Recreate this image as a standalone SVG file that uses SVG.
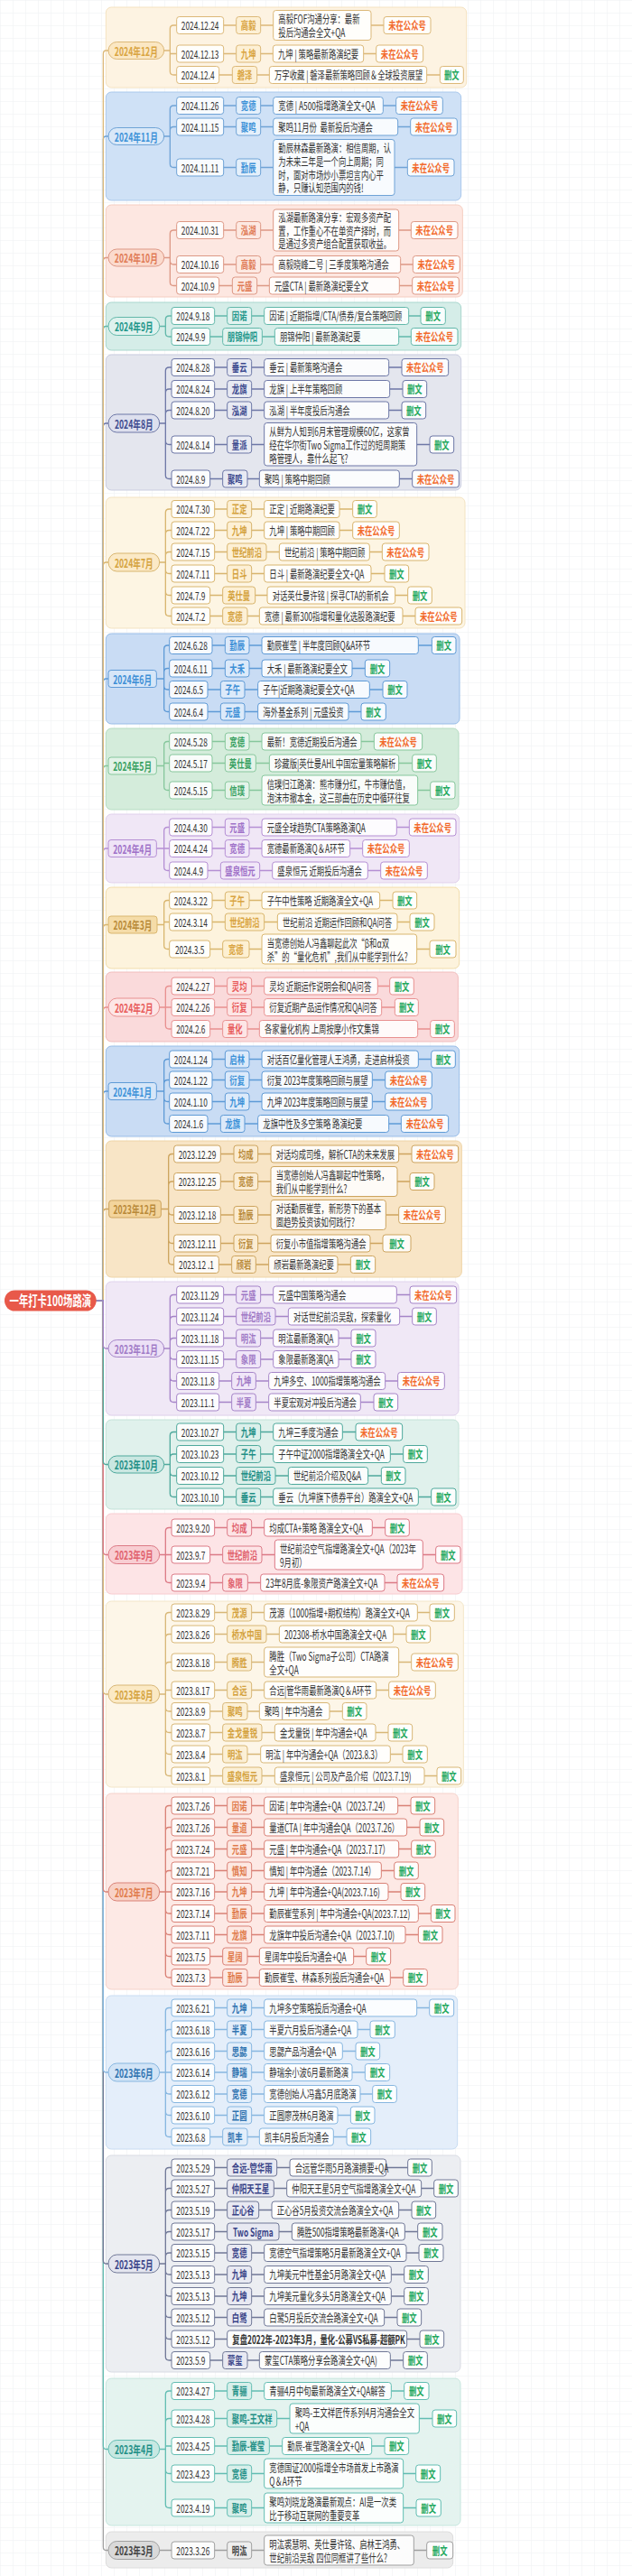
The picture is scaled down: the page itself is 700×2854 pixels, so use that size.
<svg xmlns="http://www.w3.org/2000/svg" width="700" height="2854" viewBox="0 0 700 2854">
<defs>
<pattern id="grid" width="14" height="14" patternUnits="userSpaceOnUse"><path d="M14 0H0V14" fill="none" stroke="#edeff2" stroke-width="1"/></pattern>
<style>
text,tspan{font-family:"Noto Sans CJK SC","Noto Sans",sans-serif;font-size:12.5px;dominant-baseline:central}
rect,path{vector-effect:non-scaling-stroke}
.b{fill:#fff;fill-opacity:.85;stroke-width:1;rx:4.5px;ry:3px}
.cb,.mo{fill-opacity:1}
.pl{rx:14px;ry:10px}
.cn path{fill:none;stroke-width:1.3}
.dt{fill:#333;text-anchor:middle}
.tt{fill:#333}
.tb{font-weight:bold}
.co{font-weight:bold;text-anchor:middle}
.mt{font-size:13px}
.w{fill:#f26a2b;font-weight:bold;text-anchor:middle}
.g{fill:#1fa85e;font-weight:bold;text-anchor:middle}
.a .b{stroke:#dcb878}.a .cb{fill:#fdf0d5}.a .mo{fill:#fbe7c3}.a .co{fill:#d9a441}.Ka{stroke:#dcb878}
.b2 .b{stroke:#6fa3d6}.b2 .cb{fill:#e5f0fb}.b2 .mo{fill:#d9e8f8}.b2 .co{fill:#3d92d8}.Kb{stroke:#6fa3d6}
.c .b{stroke:#dd9885}.c .cb{fill:#fde9e2}.c .mo{fill:#fbdacd}.c .co{fill:#e07b56}.Kc{stroke:#dd9885}
.d .b{stroke:#62b8aa}.d .cb{fill:#e1f3f0}.d .mo{fill:#dff2ee}.d .co{fill:#21968a}.Kd{stroke:#62b8aa}
.e .b{stroke:#6d77a6}.e .cb{fill:#e8eaf3}.e .mo{fill:#dde0ee}.e .co{fill:#3d4a8f}.Ke{stroke:#6d77a6}
.f .b{stroke:#d8b56e}.f .cb{fill:#fdf0d5}.f .mo{fill:#fbe9c6}.f .co{fill:#d4a23e}.Kf{stroke:#d8b56e}
.g2 .b{stroke:#5e9ad6}.g2 .cb{fill:#dceafa}.g2 .mo{fill:#d6e6f8}.g2 .co{fill:#3d8fd6}.Kg{stroke:#5e9ad6}
.h .b{stroke:#86c79c}.h .cb{fill:#e4f4e9}.h .mo{fill:#e3f3e8}.h .co{fill:#37a060}.Kh{stroke:#86c79c}
.i .b{stroke:#b58fd4}.i .cb{fill:#f1e7f8}.i .mo{fill:#efe4f7}.i .co{fill:#a072c8}.Ki{stroke:#b58fd4}
.j .b{stroke:#d9b66e}.j .cb{fill:#fdf0d2}.j .mo{fill:#f5dca8}.j .co{fill:#d9a441}.j .mt{fill:#b88a38}.Kj{stroke:#d9b66e}
.k .b{stroke:#e89090}.k .cb{fill:#fde6e6}.k .mo{fill:#fde6e6}.k .co{fill:#e85a5a}.Kk{stroke:#e89090}
.l .b{stroke:#5e9ad6}.l .cb{fill:#dceafa}.l .mo{fill:#d6e6f8}.l .co{fill:#3d92d8}.Kl{stroke:#5e9ad6}
.m .b{stroke:#cda45e}.m .cb{fill:#fbecd2}.m .mo{fill:#f3d49c}.m .co{fill:#b98a3a}.Km{stroke:#cda45e}
.n .b{stroke:#a584c8}.n .cb{fill:#f0e6f8}.n .mo{fill:#ece0f6}.n .co{fill:#a07ac6}.Kn{stroke:#a584c8}
.o .b{stroke:#4ea99c}.o .cb{fill:#dcf0eb}.o .mo{fill:#c9e7e1}.o .co{fill:#1f8f86}.Ko{stroke:#4ea99c}
.p .b{stroke:#dc7a86}.p .cb{fill:#fde4e6}.p .mo{fill:#f8cdd2}.p .co{fill:#e0606c}.Kp{stroke:#dc7a86}
.q .b{stroke:#d8b777}.q .cb{fill:#fcf0d6}.q .mo{fill:#fbe9c4}.q .co{fill:#d4a23e}.Kq{stroke:#d8b777}
.r .b{stroke:#d98176}.r .cb{fill:#fde8e2}.r .mo{fill:#f8d1c6}.r .co{fill:#e07b4c}.Kr{stroke:#d98176}
.s .b{stroke:#86b6e0}.s .cb{fill:#e3eefa}.s .mo{fill:#d2e4f6}.s .co{fill:#2f73b0}.Ks{stroke:#86b6e0}
.t .b{stroke:#707897}.t .cb{fill:#e8e9f2}.t .mo{fill:#e4e6f0}.t .co{fill:#3a4488}.Kt{stroke:#707897}
.u .b{stroke:#62bdb2}.u .cb{fill:#d8efea}.u .mo{fill:#c7e8e2}.u .co{fill:#1f8f86}.Ku{stroke:#62bdb2}
.v .b{stroke:#a0a0a0}.v .cb{fill:#eeeeee}.v .mo{fill:#d9d9d9}.v .co{fill:#444}.Kv{stroke:#a0a0a0}
</style>
</defs>
<rect width="700" height="2854" fill="#fff"/>
<rect width="700" height="2854" fill="url(#grid)"/>
<g transform="scale(0.666667,1)">
<g id="panels" stroke-width="1">
<rect x="176" y="8" width="599" height="89" rx="9" ry="6" fill="#fdf3e2" stroke="#f5e2c0"/>
<rect x="176" y="102" width="590" height="120" rx="9" ry="6" fill="#cfe1f6" stroke="#a9c8ec"/>
<rect x="176" y="227" width="592.5" height="102" rx="9" ry="6" fill="#fde7e1" stroke="#f5cdc0"/>
<rect x="176" y="335" width="590" height="53" rx="9" ry="6" fill="#d5ede8" stroke="#a8d6cd"/>
<rect x="176" y="393" width="590" height="150" rx="9" ry="6" fill="#e4e6ee" stroke="#cacde0"/>
<rect x="176" y="551" width="596.5" height="145" rx="9" ry="6" fill="#fdf5e3" stroke="#f3e3c1"/>
<rect x="176" y="702" width="587.5" height="100" rx="9" ry="6" fill="#c9dcf4" stroke="#98bde8"/>
<rect x="176" y="807" width="586" height="90" rx="9" ry="6" fill="#d4ecdb" stroke="#b5dcc2"/>
<rect x="176" y="902" width="587" height="76" rx="9" ry="6" fill="#f0e7f6" stroke="#e0d0ec"/>
<rect x="176" y="983" width="587" height="90" rx="9" ry="6" fill="#fdf3dd" stroke="#f1dcaa"/>
<rect x="176" y="1077" width="585" height="77" rx="9" ry="6" fill="#fadadb" stroke="#f1bcbc"/>
<rect x="176" y="1159" width="587" height="100" rx="9" ry="6" fill="#c9dcf4" stroke="#98bde8"/>
<rect x="176" y="1264" width="591" height="151" rx="9" ry="6" fill="#f8e5c6" stroke="#eed4a6"/>
<rect x="176" y="1420" width="586" height="148" rx="9" ry="6" fill="#f0e8f6" stroke="#e0d2ec"/>
<rect x="176" y="1573" width="586" height="99" rx="9" ry="6" fill="#e0f1ec" stroke="#c3e2d8"/>
<rect x="176" y="1677" width="592" height="89" rx="9" ry="6" fill="#fde4e6" stroke="#f8ccd0"/>
<rect x="176" y="1774" width="594" height="206" rx="9" ry="6" fill="#fdf6e8" stroke="#f3e6c8"/>
<rect x="176" y="1987" width="585" height="217" rx="9" ry="6" fill="#fde9e5" stroke="#f6d2ca"/>
<rect x="176" y="2211" width="584" height="170" rx="9" ry="6" fill="#e4eefa" stroke="#c8dcf2"/>
<rect x="176" y="2388" width="589" height="240" rx="9" ry="6" fill="#eceef2" stroke="#d8dbe3"/>
<rect x="176" y="2635" width="589" height="163" rx="9" ry="6" fill="#e4f3ef" stroke="#c6e6de"/>
<rect x="176" y="2805" width="576.5" height="40" rx="9" ry="6" fill="#ececec" stroke="#dcdcdc"/>
</g>
<g id="connectors" class="cn">
<path class="Km" d="M160 1441H171.5V1343.5Q171.5 1339.5 176 1339.5H181"/>
<path class="Kl" d="M160 1441H171.5V1213Q171.5 1209 176 1209H180"/>
<path class="Kk" d="M160 1441H171.5V1120Q171.5 1116 176 1116H180"/>
<path class="Kj" d="M160 1441H171.5V1028.5Q171.5 1024.5 176 1024.5H180"/>
<path class="Ki" d="M160 1441H171.5V944Q171.5 940 176 940H180"/>
<path class="Kh" d="M160 1441H171.5V852.5Q171.5 848.5 176 848.5H180"/>
<path class="Kg" d="M160 1441H171.5V756Q171.5 752 176 752H180"/>
<path class="Kf" d="M160 1441H171.5V627Q171.5 623 176 623H180"/>
<path class="Ke" d="M160 1441H171.5V473Q171.5 469 176 469H180"/>
<path class="Kd" d="M160 1441H171.5V365.5Q171.5 361.5 176 361.5H180"/>
<path class="Kc" d="M160 1441H171.5V289.5Q171.5 285.5 176 285.5H180"/>
<path class="Kb" d="M160 1441H171.5V155Q171.5 151 176 151H180"/>
<path class="Ka" d="M160 1441H171.5V60Q171.5 56 176 56H180"/>
<path class="Kv" d="M160 1441H171.5V2821.5Q171.5 2825.5 176 2825.5H180"/>
<path class="Ku" d="M160 1441H171.5V2709.5Q171.5 2713.5 176 2713.5H180"/>
<path class="Kt" d="M160 1441H171.5V2504Q171.5 2508 176 2508H180"/>
<path class="Ks" d="M160 1441H171.5V2292Q171.5 2296 176 2296H180"/>
<path class="Kr" d="M160 1441H171.5V2092Q171.5 2096 176 2096H180"/>
<path class="Kq" d="M160 1441H171.5V1873Q171.5 1877 176 1877H180"/>
<path class="Kp" d="M160 1441H171.5V1718.5Q171.5 1722.5 176 1722.5H180"/>
<path class="Ko" d="M160 1441H171.5V1618.5Q171.5 1622.5 176 1622.5H180"/>
<path class="Kn" d="M160 1441H171.5V1490Q171.5 1494 176 1494H180"/>
<path class="Ka" d="M272.5 56H282.5M282.5 56V32Q282.5 28 288.5 28H293.5M371.5 28H392.5M433 28H454M616.5 28H637.5M282.5 56V59.5H293.5M371.5 59.5H392.5M433 59.5H453.5M604 59.5H625M282.5 56V79Q282.5 83 288.5 83H293.5M364 83H386M427 83H447.5M709 83H731"/>
<path class="Kb" d="M272.5 151H282.5M282.5 151V121Q282.5 117 288.5 117H293.5M371.5 117H392.5M433 117H454M636.5 117H658M282.5 151V144.5Q282.5 140.5 288.5 140.5H293.5M371.5 140.5H392.5M433 140.5H454M661 140.5H682M282.5 151V181.5Q282.5 185.5 288.5 185.5H293.5M371.5 185.5H392.5M433 185.5H454M655.5 185.5H677"/>
<path class="Kc" d="M272.5 285.5H282.5M282.5 285.5V259Q282.5 255 288.5 255H293.5M371.5 255H392.5M433 255H454M662.5 255H683M282.5 285.5V289Q282.5 293 288.5 293H293.5M371.5 293H392.5M433 293H454M665.5 293H686M282.5 285.5V312.5Q282.5 316.5 288.5 316.5H293.5M364 316.5H386M427 316.5H447.5M663.5 316.5H685"/>
<path class="Kd" d="M265 361.5H275M275 361.5V354Q275 350 281 350H285M356.5 350H377.5M418 350H439M679 350H699M275 361.5V369Q275 373 281 373H285M349 373H370M435.5 373H456.5M662.5 373H683"/>
<path class="Ke" d="M265 469H275M275 469V411Q275 407 281 407H285M356.5 407H377.5M418 407H439M646 407H667.5M275 469V435Q275 431 281 431H285M356.5 431H377.5M418 431H439M647.5 431H669M275 469V458.5Q275 454.5 281 454.5H285M356.5 454.5H377.5M418 454.5H439M646 454.5H667.5M275 469V488.5Q275 492.5 281 492.5H285M356.5 492.5H377.5M418 492.5H439M692.5 492.5H714M275 469V526.5Q275 530.5 281 530.5H285M349 530.5H370M411 530.5H431M663.5 530.5H685"/>
<path class="Kf" d="M265 623H275M275 623V568Q275 564 281 564H285M356.5 564H377.5M418 564H439M564 564H586M275 623V591.5Q275 587.5 281 587.5H285M356.5 587.5H377.5M418 587.5H439M564 587.5H586M275 623V615.5Q275 611.5 281 611.5H285M356.5 611.5H377.5M442.5 611.5H464M614 611.5H635M275 623V631.5Q275 635.5 281 635.5H285M356.5 635.5H377.5M418 635.5H439M616.5 635.5H639M275 623V655.5Q275 659.5 281 659.5H285M349 659.5H370M424 659.5H444M656.5 659.5H677.5M275 623V678.5Q275 682.5 281 682.5H285M349 682.5H370M411 682.5H431M669 682.5H690"/>
<path class="Kg" d="M260 752H272.5M272.5 752V719Q272.5 715 278.5 715H281.5M352.5 715H374M414 715H435M695 715H717.5M272.5 752V744.5Q272.5 740.5 278.5 740.5H281.5M352.5 740.5H374M414 740.5H435M585 740.5H606.5M272.5 752V760Q272.5 764 278.5 764H281.5M345 764H366.5M406.5 764H428.5M614 764H636M272.5 752V784.5Q272.5 788.5 278.5 788.5H281.5M345 788.5H366.5M406.5 788.5H428.5M579 788.5H600"/>
<path class="Kh" d="M260 848.5H272.5M272.5 848.5V825.5Q272.5 821.5 278.5 821.5H281.5M352.5 821.5H374M414 821.5H435M600 821.5H621.5M272.5 848.5V845.5H281.5M352.5 845.5H374M425 845.5H447.5M662.5 845.5H685M272.5 848.5V871.5Q272.5 875.5 278.5 875.5H281.5M352.5 875.5H374M414 875.5H435M694 875.5H715"/>
<path class="Ki" d="M260 940H272.5M272.5 940V920.5Q272.5 916.5 278.5 916.5H281.5M352.5 916.5H374M414 916.5H435M659 916.5H680M272.5 940H281.5M352.5 940H374M414 940H435M581.5 940H602.5M272.5 940V960.5Q272.5 964.5 278.5 964.5H281.5M345 964.5H366.5M431.5 964.5H452.5M611 964.5H632.5"/>
<path class="Kj" d="M261 1024.5H272.5M272.5 1024.5V1001.5Q272.5 997.5 278.5 997.5H281.5M352.5 997.5H374M414 997.5H435M631 997.5H652.5M272.5 1024.5V1021.5H281.5M352.5 1021.5H374M439 1021.5H461M660 1021.5H681M272.5 1024.5V1047.5Q272.5 1051.5 278.5 1051.5H281.5M349 1051.5H370M414 1051.5H435M692.5 1051.5H714"/>
<path class="Kk" d="M265 1116H275M275 1116V1096.5Q275 1092.5 281 1092.5H285M356.5 1092.5H377.5M418 1092.5H439M627.5 1092.5H647.5M275 1116H285M356.5 1116H377.5M418 1116H439M634 1116H656M275 1116V1136Q275 1140 281 1140H285M349 1140H370M411 1140H431M694 1140H715"/>
<path class="Kl" d="M260 1209H272.5M272.5 1209V1177.5Q272.5 1173.5 278.5 1173.5H281.5M352.5 1173.5H374M414 1173.5H435M695 1173.5H716.5M272.5 1209V1200.5Q272.5 1196.5 278.5 1196.5H281.5M352.5 1196.5H374M414 1196.5H435M618.5 1196.5H640M272.5 1209V1216.5Q272.5 1220.5 278.5 1220.5H281.5M352.5 1220.5H374M414 1220.5H435M618.5 1220.5H640M272.5 1209V1241Q272.5 1245 278.5 1245H281.5M345 1245H366.5M406.5 1245H428.5M646 1245H666.5"/>
<path class="Km" d="M267.5 1339.5H280M280 1339.5V1282.5Q280 1278.5 286 1278.5H289M366.5 1278.5H388.5M428.5 1278.5H450M662.5 1278.5H684M280 1339.5V1313Q280 1309 286 1309H289M366.5 1309H388.5M428.5 1309H450M660 1309H681M280 1339.5V1342Q280 1346 286 1346H289M366.5 1346H388.5M428.5 1346H450M641 1346H662.5M280 1339.5V1373.5Q280 1377.5 286 1377.5H289M366.5 1377.5H388.5M428.5 1377.5H450M615 1377.5H636M280 1339.5V1397Q280 1401 286 1401H289M363.5 1401H385M425 1401H446.5M561 1401H582.5"/>
<path class="Kn" d="M272.5 1494H282.5M282.5 1494V1438.5Q282.5 1434.5 288.5 1434.5H293.5M371.5 1434.5H392.5M433 1434.5H454M659 1434.5H681M282.5 1494V1462.5Q282.5 1458.5 288.5 1458.5H293.5M371.5 1458.5H392.5M457.5 1458.5H479M664 1458.5H685M282.5 1494V1486.5Q282.5 1482.5 288.5 1482.5H293.5M371.5 1482.5H392.5M433 1482.5H454M562.5 1482.5H583.5M282.5 1494V1502Q282.5 1506 288.5 1506H293.5M371.5 1506H392.5M433 1506H454M562.5 1506H583.5M282.5 1494V1526Q282.5 1530 288.5 1530H293.5M364 1530H385M425 1530H446.5M640 1530H661M282.5 1494V1549.5Q282.5 1553.5 288.5 1553.5H293.5M364 1553.5H385M425 1553.5H446.5M599 1553.5H621"/>
<path class="Ko" d="M272.5 1622.5H282.5M282.5 1622.5V1590.5Q282.5 1586.5 288.5 1586.5H293.5M371.5 1586.5H392.5M433 1586.5H454M569 1586.5H591M282.5 1622.5V1615Q282.5 1611 288.5 1611H293.5M371.5 1611H392.5M433 1611H454M648.5 1611H670M282.5 1622.5V1631Q282.5 1635 288.5 1635H293.5M371.5 1635H392.5M457.5 1635H479M611.5 1635H633.5M282.5 1622.5V1654.5Q282.5 1658.5 288.5 1658.5H293.5M371.5 1658.5H392.5M433 1658.5H454M695 1658.5H716.5"/>
<path class="Kp" d="M265 1722.5H275M275 1722.5V1696.5Q275 1692.5 281 1692.5H285M356.5 1692.5H377.5M418 1692.5H439M618.5 1692.5H640M275 1722.5H285M349 1722.5H370M435 1722.5H456.5M702.5 1722.5H724M275 1722.5V1749.5Q275 1753.5 281 1753.5H285M349 1753.5H370M411.5 1753.5H433M639 1753.5H660"/>
<path class="Kq" d="M265 1877H275M275 1877V1790.5Q275 1786.5 281 1786.5H285M356.5 1786.5H377.5M418 1786.5H439M693.5 1786.5H714M275 1877V1814.5Q275 1810.5 281 1810.5H285M356.5 1810.5H377.5M442.5 1810.5H464M653.5 1810.5H675M275 1877V1845.5Q275 1841.5 281 1841.5H285M356.5 1841.5H377.5M418 1841.5H439M662.5 1841.5H683.5M275 1877V1872.5H285M356.5 1872.5H377.5M418 1872.5H439M625 1872.5H646M275 1877V1892Q275 1896 281 1896H285M349 1896H370M411 1896H431M547.5 1896H569M275 1877V1915.5Q275 1919.5 281 1919.5H285M349 1919.5H370M435 1919.5H456.5M624 1919.5H645M275 1877V1939.5Q275 1943.5 281 1943.5H285M349 1943.5H370M411 1943.5H433M648.5 1943.5H669M275 1877V1963.5Q275 1967.5 281 1967.5H285M349 1967.5H370M435 1967.5H456.5M705 1967.5H726"/>
<path class="Kr" d="M265 2096H275M275 2096V2004.5Q275 2000.5 281 2000.5H285M356.5 2000.5H377.5M418 2000.5H439M661 2000.5H682.5M275 2096V2028.5Q275 2024.5 281 2024.5H285M356.5 2024.5H377.5M418 2024.5H439M676 2024.5H697.5M275 2096V2052.5Q275 2048.5 281 2048.5H285M356.5 2048.5H377.5M418 2048.5H439M662.5 2048.5H683.5M275 2096V2076.5Q275 2072.5 281 2072.5H285M356.5 2072.5H377.5M418 2072.5H439M633.5 2072.5H655M275 2096H285M356.5 2096H377.5M418 2096H439M645 2096H666M275 2096V2116Q275 2120 281 2120H285M356.5 2120H377.5M418 2120H439M695 2120H716M275 2096V2139.5Q275 2143.5 281 2143.5H285M356.5 2143.5H377.5M418 2143.5H439M673.5 2143.5H695M275 2096V2163.5Q275 2167.5 281 2167.5H285M349 2167.5H370M411 2167.5H431M587.5 2167.5H608.5M275 2096V2187Q275 2191 281 2191H285M349 2191H370M411 2191H431M648.5 2191H670"/>
<path class="Ks" d="M265 2296H275M275 2296V2228.5Q275 2224.5 281 2224.5H285M356.5 2224.5H377.5M418 2224.5H439M692.5 2224.5H713.5M275 2296V2252.5Q275 2248.5 281 2248.5H285M356.5 2248.5H377.5M418 2248.5H439M594 2248.5H615M275 2296V2276.5Q275 2272.5 281 2272.5H285M356.5 2272.5H377.5M418 2272.5H439M569 2272.5H591M275 2296H285M356.5 2296H377.5M418 2296H439M585 2296H606.5M275 2296V2316Q275 2320 281 2320H285M356.5 2320H377.5M418 2320H439M598.5 2320H619M275 2296V2339.5Q275 2343.5 281 2343.5H285M356.5 2343.5H377.5M418 2343.5H439M561 2343.5H582.5M275 2296V2363.5Q275 2367.5 281 2367.5H285M349 2367.5H370M411 2367.5H431M554 2367.5H576"/>
<path class="Kt" d="M265 2508H275M275 2508V2405.5Q275 2401.5 281 2401.5H285M356.5 2401.5H377.5M460 2401.5H481.5M641.5 2401.5H677.5M275 2508V2428.5Q275 2424.5 281 2424.5H285M356.5 2424.5H377.5M455 2424.5H476.5M700 2424.5H721M275 2508V2452.5Q275 2448.5 281 2448.5H285M356.5 2448.5H377.5M430 2448.5H451.5M662.5 2448.5H684M275 2508V2476.5Q275 2472.5 281 2472.5H285M356.5 2472.5H377.5M463.5 2472.5H485M672.5 2472.5H694M275 2508V2500Q275 2496 281 2496H285M356.5 2496H377.5M418 2496H439M675 2496H696M275 2508V2516Q275 2520 281 2520H285M356.5 2520H377.5M418 2520H439M650 2520H671.5M275 2508V2540Q275 2544 281 2544H285M356.5 2544H377.5M418 2544H439M650 2544H671.5M275 2508V2563.5Q275 2567.5 281 2567.5H285M356.5 2567.5H377.5M418 2567.5H439M638.5 2567.5H660M275 2508V2587.5Q275 2591.5 281 2591.5H285M356.5 2591.5H377.5M676 2591.5H697.5M275 2508V2611Q275 2615 281 2615H285M349 2615H370M411 2615H431M648.5 2615H670"/>
<path class="Ku" d="M265 2713.5H275M275 2713.5V2653Q275 2649 281 2649H285M356.5 2649H377.5M418 2649H439M650 2649H671.5M275 2713.5V2683.5Q275 2679.5 281 2679.5H285M356.5 2679.5H377.5M460 2679.5H481.5M696.5 2679.5H718.5M275 2713.5V2710H285M356.5 2710H377.5M447.5 2710H469M617.5 2710H639M275 2713.5V2736.5Q275 2740.5 281 2740.5H285M356.5 2740.5H377.5M418 2740.5H439M670 2740.5H691M275 2713.5V2774.5Q275 2778.5 281 2778.5H285M356.5 2778.5H377.5M418 2778.5H439M670 2778.5H691.5"/>
<path class="Kv" d="M265 2825.5H285M356.5 2825.5H377.5M418 2825.5H439M687.5 2825.5H709"/>
</g>

<g id="root"><rect x="7.5" y="1429.5" width="152.5" height="23" rx="17" ry="11.5" fill="#e8594a"/><text x="83.75" y="1441" fill="#fff" font-weight="bold" text-anchor="middle" style="font-size:15.5px">一年打卡100场路演</text></g>

<g id="sec-2024-12" class="a">
<g id="a0"><rect class="b mo pl" x="180" y="46.5" width="92.5" height="19"/><text class="co mt" x="226.25" y="56">2024年12月</text></g>
<g transform="translate(0,28)">
<g id="a1d"><rect class="b" x="293.5" y="-9.5" width="78" height="19"/><text class="dt" x="332.5">2024.12.24</text></g>
<g id="a1c"><rect class="b cb" x="392.5" y="-9.5" width="40.5" height="19"/><text class="co" x="412.75">高毅</text></g>
<g id="a1t"><rect class="b" x="454" y="-16.5" width="162.5" height="33"/><text class="tt" x="462.5" y="-7.2">高毅FOF沟通分享：最新<tspan x="462.5" y="7.2">投后沟通会全文+QA</tspan></text></g>
<g id="a1s"><rect class="b" x="637.5" y="-9.5" width="78" height="19"/><text class="w" x="676.5">未在公众号</text></g>
</g>
<g transform="translate(0,59.5)">
<g id="a2d"><rect class="b" x="293.5" y="-9.5" width="78" height="19"/><text class="dt" x="332.5">2024.12.13</text></g>
<g id="a2c"><rect class="b cb" x="392.5" y="-9.5" width="40.5" height="19"/><text class="co" x="412.75">九坤</text></g>
<g id="a2t"><rect class="b" x="453.5" y="-9.5" width="150.5" height="19"/><text class="tt" x="462">九坤 | 策略最新路演纪要</text></g>
<g id="a2s"><rect class="b" x="625" y="-9.5" width="78" height="19"/><text class="w" x="664">未在公众号</text></g>
</g>
<g transform="translate(0,83)">
<g id="a3d"><rect class="b" x="293.5" y="-9.5" width="70.5" height="19"/><text class="dt" x="328.75">2024.12.4</text></g>
<g id="a3c"><rect class="b cb" x="386" y="-9.5" width="41" height="19"/><text class="co" x="406.5">磐泽</text></g>
<g id="a3t"><rect class="b" x="447.5" y="-9.5" width="261.5" height="19"/><text class="tt" x="456">万字收藏 | 磐泽最新策略回顾＆全球投资展望</text></g>
<g id="a3s"><rect class="b" x="731" y="-9.5" width="39" height="19"/><text class="g" x="750.5">删文</text></g>
</g>
</g>

<g id="sec-2024-11" class="b2">
<g id="b0"><rect class="b mo pl" x="180" y="141.5" width="92.5" height="19"/><text class="co mt" x="226.25" y="151">2024年11月</text></g>
<g transform="translate(0,117)">
<g id="b1d"><rect class="b" x="293.5" y="-9.5" width="78" height="19"/><text class="dt" x="332.5">2024.11.26</text></g>
<g id="b1c"><rect class="b cb" x="392.5" y="-9.5" width="40.5" height="19"/><text class="co" x="412.75">宽德</text></g>
<g id="b1t"><rect class="b" x="454" y="-9.5" width="182.5" height="19"/><text class="tt" x="462.5">宽德 | A500指增路演全文+QA</text></g>
<g id="b1s"><rect class="b" x="658" y="-9.5" width="77.5" height="19"/><text class="w" x="696.75">未在公众号</text></g>
</g>
<g transform="translate(0,140.5)">
<g id="b2d"><rect class="b" x="293.5" y="-9.5" width="78" height="19"/><text class="dt" x="332.5">2024.11.15</text></g>
<g id="b2c"><rect class="b cb" x="392.5" y="-9.5" width="40.5" height="19"/><text class="co" x="412.75">聚鸣</text></g>
<g id="b2t"><rect class="b" x="454" y="-9.5" width="207" height="19"/><text class="tt" x="462.5">聚鸣11月份&#160; 最新投后沟通会</text></g>
<g id="b2s"><rect class="b" x="682" y="-9.5" width="77.5" height="19"/><text class="w" x="720.75">未在公众号</text></g>
</g>
<g transform="translate(0,185.5)">
<g id="b3d"><rect class="b" x="293.5" y="-9.5" width="78" height="19"/><text class="dt" x="332.5">2024.11.11</text></g>
<g id="b3c"><rect class="b cb" x="392.5" y="-9.5" width="40.5" height="19"/><text class="co" x="412.75">勤辰</text></g>
<g id="b3t"><rect class="b" x="454" y="-31" width="201.5" height="62"/><text class="tt" x="462.5" y="-21.6">勤辰林森最新路演：相信周期，认<tspan x="462.5" y="-7.2">为未来三年是一个向上周期；同</tspan><tspan x="462.5" y="7.2">时，面对市场炒小票坦言内心平</tspan><tspan x="462.5" y="21.6">静，只赚认知范围内的钱!</tspan></text></g>
<g id="b3s"><rect class="b" x="677" y="-9.5" width="77.5" height="19"/><text class="w" x="715.75">未在公众号</text></g>
</g>
</g>

<g id="sec-2024-10" class="c">
<g id="c0"><rect class="b mo pl" x="180" y="276" width="92.5" height="19"/><text class="co mt" x="226.25" y="285.5">2024年10月</text></g>
<g transform="translate(0,255)">
<g id="c1d"><rect class="b" x="293.5" y="-9.5" width="78" height="19"/><text class="dt" x="332.5">2024.10.31</text></g>
<g id="c1c"><rect class="b cb" x="392.5" y="-9.5" width="40.5" height="19"/><text class="co" x="412.75">泓湖</text></g>
<g id="c1t"><rect class="b" x="454" y="-23" width="208.5" height="46"/><text class="tt" x="462.5" y="-14.4">泓湖最新路演分享：宏观多资产配<tspan x="462.5" y="0">置，工作重心不在单资产择时，而</tspan><tspan x="462.5" y="14.4">是通过多资产组合配置获取收益。</tspan></text></g>
<g id="c1s"><rect class="b" x="683" y="-9.5" width="77.5" height="19"/><text class="w" x="721.75">未在公众号</text></g>
</g>
<g transform="translate(0,293)">
<g id="c2d"><rect class="b" x="293.5" y="-9.5" width="78" height="19"/><text class="dt" x="332.5">2024.10.16</text></g>
<g id="c2c"><rect class="b cb" x="392.5" y="-9.5" width="40.5" height="19"/><text class="co" x="412.75">高毅</text></g>
<g id="c2t"><rect class="b" x="454" y="-9.5" width="211.5" height="19"/><text class="tt" x="462.5">高毅晓峰二号 | 三季度策略沟通会</text></g>
<g id="c2s"><rect class="b" x="686" y="-9.5" width="78" height="19"/><text class="w" x="725">未在公众号</text></g>
</g>
<g transform="translate(0,316.5)">
<g id="c3d"><rect class="b" x="293.5" y="-9.5" width="70.5" height="19"/><text class="dt" x="328.75">2024.10.9</text></g>
<g id="c3c"><rect class="b cb" x="386" y="-9.5" width="41" height="19"/><text class="co" x="406.5">元盛</text></g>
<g id="c3t"><rect class="b" x="447.5" y="-9.5" width="216" height="19"/><text class="tt" x="456">元盛CTA | 最新路演纪要全文</text></g>
<g id="c3s"><rect class="b" x="685" y="-9.5" width="77.5" height="19"/><text class="w" x="723.75">未在公众号</text></g>
</g>
</g>

<g id="sec-2024-09" class="d">
<g id="d0"><rect class="b mo pl" x="180" y="351.5" width="85" height="20"/><text class="co mt" x="222.5" y="361.5">2024年9月</text></g>
<g transform="translate(0,350)">
<g id="d1d"><rect class="b" x="285" y="-9.5" width="71.5" height="19"/><text class="dt" x="320.75">2024.9.18</text></g>
<g id="d1c"><rect class="b cb" x="377.5" y="-9.5" width="40.5" height="19"/><text class="co" x="397.75">因诺</text></g>
<g id="d1t"><rect class="b" x="439" y="-9.5" width="240" height="19"/><text class="tt" x="447.5">因诺 | 近期指增/CTA/债券/复合策略回顾</text></g>
<g id="d1s"><rect class="b" x="699" y="-9.5" width="41" height="19"/><text class="g" x="719.5">删文</text></g>
</g>
<g transform="translate(0,373)">
<g id="d2d"><rect class="b" x="285" y="-9.5" width="64" height="19"/><text class="dt" x="317">2024.9.9</text></g>
<g id="d2c"><rect class="b cb" x="370" y="-9.5" width="65.5" height="19"/><text class="co" x="402.75">朋锦仲阳</text></g>
<g id="d2t"><rect class="b" x="456.5" y="-9.5" width="206" height="19"/><text class="tt" x="465">朋锦仲阳 | 最新路演纪要</text></g>
<g id="d2s"><rect class="b" x="683" y="-9.5" width="77.5" height="19"/><text class="w" x="721.75">未在公众号</text></g>
</g>
</g>

<g id="sec-2024-08" class="e">
<g id="e0"><rect class="b mo pl" x="180" y="459" width="85" height="20"/><text class="co mt" x="222.5" y="469">2024年8月</text></g>
<g transform="translate(0,407)">
<g id="e1d"><rect class="b" x="285" y="-9.5" width="71.5" height="19"/><text class="dt" x="320.75">2024.8.28</text></g>
<g id="e1c"><rect class="b cb" x="377.5" y="-9.5" width="40.5" height="19"/><text class="co" x="397.75">垂云</text></g>
<g id="e1t"><rect class="b" x="439" y="-9.5" width="207" height="19"/><text class="tt" x="447.5">垂云 | 最新策略沟通会</text></g>
<g id="e1s"><rect class="b" x="667.5" y="-9.5" width="77.5" height="19"/><text class="w" x="706.25">未在公众号</text></g>
</g>
<g transform="translate(0,431)">
<g id="e2d"><rect class="b" x="285" y="-9.5" width="71.5" height="19"/><text class="dt" x="320.75">2024.8.24</text></g>
<g id="e2c"><rect class="b cb" x="377.5" y="-9.5" width="40.5" height="19"/><text class="co" x="397.75">龙旗</text></g>
<g id="e2t"><rect class="b" x="439" y="-9.5" width="208.5" height="19"/><text class="tt" x="447.5">龙旗 | 上半年策略回顾</text></g>
<g id="e2s"><rect class="b" x="669" y="-9.5" width="40" height="19"/><text class="g" x="689">删文</text></g>
</g>
<g transform="translate(0,454.5)">
<g id="e3d"><rect class="b" x="285" y="-9.5" width="71.5" height="19"/><text class="dt" x="320.75">2024.8.20</text></g>
<g id="e3c"><rect class="b cb" x="377.5" y="-9.5" width="40.5" height="19"/><text class="co" x="397.75">泓湖</text></g>
<g id="e3t"><rect class="b" x="439" y="-9.5" width="207" height="19"/><text class="tt" x="447.5">泓湖 | 半年度投后沟通会</text></g>
<g id="e3s"><rect class="b" x="667.5" y="-9.5" width="40" height="19"/><text class="g" x="687.5">删文</text></g>
</g>
<g transform="translate(0,492.5)">
<g id="e4d"><rect class="b" x="285" y="-9.5" width="71.5" height="19"/><text class="dt" x="320.75">2024.8.14</text></g>
<g id="e4c"><rect class="b cb" x="377.5" y="-9.5" width="40.5" height="19"/><text class="co" x="397.75">量派</text></g>
<g id="e4t"><rect class="b" x="439" y="-24" width="253.5" height="47.5"/><text class="tt" x="447.5" y="-14.4">从鲜为人知到6月末管理规模60亿，这家曾<tspan x="447.5" y="0">经在华尔街Two Sigma工作过的短周期策</tspan><tspan x="447.5" y="14.4">略管理人，靠什么起飞?</tspan></text></g>
<g id="e4s"><rect class="b" x="714" y="-9.5" width="40" height="19"/><text class="g" x="734">删文</text></g>
</g>
<g transform="translate(0,530.5)">
<g id="e5d"><rect class="b" x="285" y="-9.5" width="64" height="19"/><text class="dt" x="317">2024.8.9</text></g>
<g id="e5c"><rect class="b cb" x="370" y="-9.5" width="41" height="19"/><text class="co" x="390.5">聚鸣</text></g>
<g id="e5t"><rect class="b" x="431" y="-9.5" width="232.5" height="19"/><text class="tt" x="439.5">聚鸣 | 策略中期回顾</text></g>
<g id="e5s"><rect class="b" x="685" y="-9.5" width="77.5" height="19"/><text class="w" x="723.75">未在公众号</text></g>
</g>
</g>

<g id="sec-2024-07" class="f">
<g id="f0"><rect class="b mo pl" x="180" y="613" width="85" height="20"/><text class="co mt" x="222.5" y="623">2024年7月</text></g>
<g transform="translate(0,564)">
<g id="f1d"><rect class="b" x="285" y="-9.5" width="71.5" height="19"/><text class="dt" x="320.75">2024.7.30</text></g>
<g id="f1c"><rect class="b cb" x="377.5" y="-9.5" width="40.5" height="19"/><text class="co" x="397.75">正定</text></g>
<g id="f1t"><rect class="b" x="439" y="-9.5" width="125" height="19"/><text class="tt" x="447.5">正定 | 近期路演纪要</text></g>
<g id="f1s"><rect class="b" x="586" y="-9.5" width="40" height="19"/><text class="g" x="606">删文</text></g>
</g>
<g transform="translate(0,587.5)">
<g id="f2d"><rect class="b" x="285" y="-9.5" width="71.5" height="19"/><text class="dt" x="320.75">2024.7.22</text></g>
<g id="f2c"><rect class="b cb" x="377.5" y="-9.5" width="40.5" height="19"/><text class="co" x="397.75">九坤</text></g>
<g id="f2t"><rect class="b" x="439" y="-9.5" width="125" height="19"/><text class="tt" x="447.5">九坤 | 策略中期回顾</text></g>
<g id="f2s"><rect class="b" x="586" y="-9.5" width="77.5" height="19"/><text class="w" x="624.75">未在公众号</text></g>
</g>
<g transform="translate(0,611.5)">
<g id="f3d"><rect class="b" x="285" y="-9.5" width="71.5" height="19"/><text class="dt" x="320.75">2024.7.15</text></g>
<g id="f3c"><rect class="b cb" x="377.5" y="-9.5" width="65" height="19"/><text class="co" x="410">世纪前沿</text></g>
<g id="f3t"><rect class="b" x="464" y="-9.5" width="150" height="19"/><text class="tt" x="472.5">世纪前沿 | 策略中期回顾</text></g>
<g id="f3s"><rect class="b" x="635" y="-9.5" width="77.5" height="19"/><text class="w" x="673.75">未在公众号</text></g>
</g>
<g transform="translate(0,635.5)">
<g id="f4d"><rect class="b" x="285" y="-9.5" width="71.5" height="19"/><text class="dt" x="320.75">2024.7.11</text></g>
<g id="f4c"><rect class="b cb" x="377.5" y="-9.5" width="40.5" height="19"/><text class="co" x="397.75">日斗</text></g>
<g id="f4t"><rect class="b" x="439" y="-9.5" width="177.5" height="19"/><text class="tt" x="447.5">日斗 | 最新路演纪要全文+QA</text></g>
<g id="f4s"><rect class="b" x="639" y="-9.5" width="40" height="19"/><text class="g" x="659">删文</text></g>
</g>
<g transform="translate(0,659.5)">
<g id="f5d"><rect class="b" x="285" y="-9.5" width="64" height="19"/><text class="dt" x="317">2024.7.9</text></g>
<g id="f5c"><rect class="b cb" x="370" y="-9.5" width="54" height="19"/><text class="co" x="397">英仕曼</text></g>
<g id="f5t"><rect class="b" x="444" y="-9.5" width="212.5" height="19"/><text class="tt" x="452.5">对话英仕曼许铭 | 探寻CTA的新机会</text></g>
<g id="f5s"><rect class="b" x="677.5" y="-9.5" width="40" height="19"/><text class="g" x="697.5">删文</text></g>
</g>
<g transform="translate(0,682.5)">
<g id="f6d"><rect class="b" x="285" y="-9.5" width="64" height="19"/><text class="dt" x="317">2024.7.2</text></g>
<g id="f6c"><rect class="b cb" x="370" y="-9.5" width="41" height="19"/><text class="co" x="390.5">宽德</text></g>
<g id="f6t"><rect class="b" x="431" y="-9.5" width="238" height="19"/><text class="tt" x="439.5">宽德 | 最新300指增和量化选股路演纪要</text></g>
<g id="f6s"><rect class="b" x="690" y="-9.5" width="77.5" height="19"/><text class="w" x="728.75">未在公众号</text></g>
</g>
</g>

<g id="sec-2024-06" class="g2">
<g id="g0"><rect class="b mo" x="180" y="742.5" width="80" height="19"/><text class="co mt" x="220" y="752">2024年6月</text></g>
<g transform="translate(0,715)">
<g id="g1d"><rect class="b" x="281.5" y="-9.5" width="71" height="19"/><text class="dt" x="317">2024.6.28</text></g>
<g id="g1c"><rect class="b cb" x="374" y="-9.5" width="40" height="19"/><text class="co" x="394">勤辰</text></g>
<g id="g1t"><rect class="b" x="435" y="-9.5" width="260" height="19"/><text class="tt" x="443.5">勤辰崔莹 | 半年度回顾Q&amp;A环节</text></g>
<g id="g1s"><rect class="b" x="717.5" y="-9.5" width="40" height="19"/><text class="g" x="737.5">删文</text></g>
</g>
<g transform="translate(0,740.5)">
<g id="g2d"><rect class="b" x="281.5" y="-9.5" width="71" height="19"/><text class="dt" x="317">2024.6.11</text></g>
<g id="g2c"><rect class="b cb" x="374" y="-9.5" width="40" height="19"/><text class="co" x="394">大禾</text></g>
<g id="g2t"><rect class="b" x="435" y="-9.5" width="150" height="19"/><text class="tt" x="443.5">大禾 | 最新路演纪要全文</text></g>
<g id="g2s"><rect class="b" x="606.5" y="-9.5" width="41" height="19"/><text class="g" x="627">删文</text></g>
</g>
<g transform="translate(0,764)">
<g id="g3d"><rect class="b" x="281.5" y="-9.5" width="63.5" height="19"/><text class="dt" x="313.25">2024.6.5</text></g>
<g id="g3c"><rect class="b cb" x="366.5" y="-9.5" width="40" height="19"/><text class="co" x="386.5">子午</text></g>
<g id="g3t"><rect class="b" x="428.5" y="-9.5" width="185.5" height="19"/><text class="tt" x="437">子午|近期路演纪要全文+QA</text></g>
<g id="g3s"><rect class="b" x="636" y="-9.5" width="40.5" height="19"/><text class="g" x="656.25">删文</text></g>
</g>
<g transform="translate(0,788.5)">
<g id="g4d"><rect class="b" x="281.5" y="-9.5" width="63.5" height="19"/><text class="dt" x="313.25">2024.6.4</text></g>
<g id="g4c"><rect class="b cb" x="366.5" y="-9.5" width="40" height="19"/><text class="co" x="386.5">元盛</text></g>
<g id="g4t"><rect class="b" x="428.5" y="-9.5" width="150.5" height="19"/><text class="tt" x="437">海外基金系列 | 元盛投资</text></g>
<g id="g4s"><rect class="b" x="600" y="-9.5" width="41" height="19"/><text class="g" x="620.5">删文</text></g>
</g>
</g>

<g id="sec-2024-05" class="h">
<g id="h0"><rect class="b mo" x="180" y="839" width="80" height="19"/><text class="co mt" x="220" y="848.5">2024年5月</text></g>
<g transform="translate(0,821.5)">
<g id="h1d"><rect class="b" x="281.5" y="-9.5" width="71" height="19"/><text class="dt" x="317">2024.5.28</text></g>
<g id="h1c"><rect class="b cb" x="374" y="-9.5" width="40" height="19"/><text class="co" x="394">宽德</text></g>
<g id="h1t"><rect class="b" x="435" y="-9.5" width="165" height="19"/><text class="tt" x="443.5">最新！宽德近期投后沟通会</text></g>
<g id="h1s"><rect class="b" x="621.5" y="-9.5" width="80" height="19"/><text class="w" x="661.5">未在公众号</text></g>
</g>
<g transform="translate(0,845.5)">
<g id="h2d"><rect class="b" x="281.5" y="-9.5" width="71" height="19"/><text class="dt" x="317">2024.5.17</text></g>
<g id="h2c"><rect class="b cb" x="374" y="-9.5" width="51" height="19"/><text class="co" x="399.5">英仕曼</text></g>
<g id="h2t"><rect class="b" x="447.5" y="-9.5" width="215" height="19"/><text class="tt" x="456">珍藏版|英仕曼AHL中国宏量策略解析</text></g>
<g id="h2s"><rect class="b" x="685" y="-9.5" width="40" height="19"/><text class="g" x="705">删文</text></g>
</g>
<g transform="translate(0,875.5)">
<g id="h3d"><rect class="b" x="281.5" y="-9.5" width="71" height="19"/><text class="dt" x="317">2024.5.15</text></g>
<g id="h3c"><rect class="b cb" x="374" y="-9.5" width="40" height="19"/><text class="co" x="394">信璞</text></g>
<g id="h3t"><rect class="b" x="435" y="-16.5" width="259" height="33"/><text class="tt" x="443.5" y="-7.2">信璞归江路演：熊市赚分红，牛市赚估值，<tspan x="443.5" y="7.2">泡沫市撤本金，这三部曲在历史中循环往复</tspan></text></g>
<g id="h3s"><rect class="b" x="715" y="-9.5" width="41" height="19"/><text class="g" x="735.5">删文</text></g>
</g>
</g>

<g id="sec-2024-04" class="i">
<g id="i0"><rect class="b mo" x="180" y="930.5" width="80" height="19"/><text class="co mt" x="220" y="940">2024年4月</text></g>
<g transform="translate(0,916.5)">
<g id="i1d"><rect class="b" x="281.5" y="-9.5" width="71" height="19"/><text class="dt" x="317">2024.4.30</text></g>
<g id="i1c"><rect class="b cb" x="374" y="-9.5" width="40" height="19"/><text class="co" x="394">元盛</text></g>
<g id="i1t"><rect class="b" x="435" y="-9.5" width="224" height="19"/><text class="tt" x="443.5">元盛全球趋势CTA策略路演QA</text></g>
<g id="i1s"><rect class="b" x="680" y="-9.5" width="77.5" height="19"/><text class="w" x="718.75">未在公众号</text></g>
</g>
<g transform="translate(0,940)">
<g id="i2d"><rect class="b" x="281.5" y="-9.5" width="71" height="19"/><text class="dt" x="317">2024.4.24</text></g>
<g id="i2c"><rect class="b cb" x="374" y="-9.5" width="40" height="19"/><text class="co" x="394">宽德</text></g>
<g id="i2t"><rect class="b" x="435" y="-9.5" width="146.5" height="19"/><text class="tt" x="443.5">宽德最新路演Q＆A环节</text></g>
<g id="i2s"><rect class="b" x="602.5" y="-9.5" width="77.5" height="19"/><text class="w" x="641.25">未在公众号</text></g>
</g>
<g transform="translate(0,964.5)">
<g id="i3d"><rect class="b" x="281.5" y="-9.5" width="63.5" height="19"/><text class="dt" x="313.25">2024.4.9</text></g>
<g id="i3c"><rect class="b cb" x="366.5" y="-9.5" width="65" height="19"/><text class="co" x="399">盛泉恒元</text></g>
<g id="i3t"><rect class="b" x="452.5" y="-9.5" width="158.5" height="19"/><text class="tt" x="461">盛泉恒元 近期投后沟通会</text></g>
<g id="i3s"><rect class="b" x="632.5" y="-9.5" width="77.5" height="19"/><text class="w" x="671.25">未在公众号</text></g>
</g>
</g>

<g id="sec-2024-03" class="j">
<g id="j0"><rect class="b mo" x="180" y="1015" width="81" height="19"/><text class="co mt" x="220.5" y="1024.5">2024年3月</text></g>
<g transform="translate(0,997.5)">
<g id="j1d"><rect class="b" x="281.5" y="-9.5" width="71" height="19"/><text class="dt" x="317">2024.3.22</text></g>
<g id="j1c"><rect class="b cb" x="374" y="-9.5" width="40" height="19"/><text class="co" x="394">子午</text></g>
<g id="j1t"><rect class="b" x="435" y="-9.5" width="196" height="19"/><text class="tt" x="443.5">子午中性策略 近期路演全文+QA</text></g>
<g id="j1s"><rect class="b" x="652.5" y="-9.5" width="40" height="19"/><text class="g" x="672.5">删文</text></g>
</g>
<g transform="translate(0,1021.5)">
<g id="j2d"><rect class="b" x="281.5" y="-9.5" width="71" height="19"/><text class="dt" x="317">2024.3.14</text></g>
<g id="j2c"><rect class="b cb" x="374" y="-9.5" width="65" height="19"/><text class="co" x="406.5">世纪前沿</text></g>
<g id="j2t"><rect class="b" x="461" y="-9.5" width="199" height="19"/><text class="tt" x="469.5">世纪前沿 近期运作回顾和QA问答</text></g>
<g id="j2s"><rect class="b" x="681" y="-9.5" width="40.5" height="19"/><text class="g" x="701.25">删文</text></g>
</g>
<g transform="translate(0,1051.5)">
<g id="j3d"><rect class="b" x="281.5" y="-9.5" width="67.5" height="19"/><text class="dt" x="315.25">2024.3.5</text></g>
<g id="j3c"><rect class="b cb" x="370" y="-9.5" width="44" height="19"/><text class="co" x="392">宽德</text></g>
<g id="j3t"><rect class="b" x="435" y="-16.5" width="257.5" height="33"/><text class="tt" x="443.5" y="-7.2">当宽德创始人冯鑫聊起此次“β和α双<tspan x="443.5" y="7.2">杀”的“量化危机”,我们从中能学到什么?</tspan></text></g>
<g id="j3s"><rect class="b" x="714" y="-9.5" width="43.5" height="19"/><text class="g" x="735.75">删文</text></g>
</g>
</g>

<g id="sec-2024-02" class="k">
<g id="k0"><rect class="b mo pl" x="180" y="1106" width="85" height="20"/><text class="co mt" x="222.5" y="1116">2024年2月</text></g>
<g transform="translate(0,1092.5)">
<g id="k1d"><rect class="b" x="285" y="-9.5" width="71.5" height="19"/><text class="dt" x="320.75">2024.2.27</text></g>
<g id="k1c"><rect class="b cb" x="377.5" y="-9.5" width="40.5" height="19"/><text class="co" x="397.75">灵均</text></g>
<g id="k1t"><rect class="b" x="439" y="-9.5" width="188.5" height="19"/><text class="tt" x="447.5">灵均 近期运作说明会和QA问答</text></g>
<g id="k1s"><rect class="b" x="647.5" y="-9.5" width="40" height="19"/><text class="g" x="667.5">删文</text></g>
</g>
<g transform="translate(0,1116)">
<g id="k2d"><rect class="b" x="285" y="-9.5" width="71.5" height="19"/><text class="dt" x="320.75">2024.2.26</text></g>
<g id="k2c"><rect class="b cb" x="377.5" y="-9.5" width="40.5" height="19"/><text class="co" x="397.75">衍复</text></g>
<g id="k2t"><rect class="b" x="439" y="-9.5" width="195" height="19"/><text class="tt" x="447.5">衍复近期产品运作情况和QA问答</text></g>
<g id="k2s"><rect class="b" x="656" y="-9.5" width="39" height="19"/><text class="g" x="675.5">删文</text></g>
</g>
<g transform="translate(0,1140)">
<g id="k3d"><rect class="b" x="285" y="-9.5" width="64" height="19"/><text class="dt" x="317">2024.2.6</text></g>
<g id="k3c"><rect class="b cb" x="370" y="-9.5" width="41" height="19"/><text class="co" x="390.5">量化</text></g>
<g id="k3t"><rect class="b" x="431" y="-9.5" width="263" height="19"/><text class="tt" x="439.5">各家量化机构 上周按摩小作文集锦</text></g>
<g id="k3s"><rect class="b" x="715" y="-9.5" width="40" height="19"/><text class="g" x="735">删文</text></g>
</g>
</g>

<g id="sec-2024-01" class="l">
<g id="l0"><rect class="b mo" x="180" y="1199.5" width="80" height="19"/><text class="co mt" x="220" y="1209">2024年1月</text></g>
<g transform="translate(0,1173.5)">
<g id="l1d"><rect class="b" x="281.5" y="-9.5" width="71" height="19"/><text class="dt" x="317">2024.1.24</text></g>
<g id="l1c"><rect class="b cb" x="374" y="-9.5" width="40" height="19"/><text class="co" x="394">启林</text></g>
<g id="l1t"><rect class="b" x="435" y="-9.5" width="260" height="19"/><text class="tt" x="443.5">对话百亿量化管理人王鸿勇，走进启林投资</text></g>
<g id="l1s"><rect class="b" x="716.5" y="-9.5" width="40" height="19"/><text class="g" x="736.5">删文</text></g>
</g>
<g transform="translate(0,1196.5)">
<g id="l2d"><rect class="b" x="281.5" y="-9.5" width="71" height="19"/><text class="dt" x="317">2024.1.22</text></g>
<g id="l2c"><rect class="b cb" x="374" y="-9.5" width="40" height="19"/><text class="co" x="394">衍复</text></g>
<g id="l2t"><rect class="b" x="435" y="-9.5" width="183.5" height="19"/><text class="tt" x="443.5">衍复 2023年度策略回顾与展望</text></g>
<g id="l2s"><rect class="b" x="640" y="-9.5" width="77.5" height="19"/><text class="w" x="678.75">未在公众号</text></g>
</g>
<g transform="translate(0,1220.5)">
<g id="l3d"><rect class="b" x="281.5" y="-9.5" width="71" height="19"/><text class="dt" x="317">2024.1.10</text></g>
<g id="l3c"><rect class="b cb" x="374" y="-9.5" width="40" height="19"/><text class="co" x="394">九坤</text></g>
<g id="l3t"><rect class="b" x="435" y="-9.5" width="183.5" height="19"/><text class="tt" x="443.5">九坤 2023年度策略回顾与展望</text></g>
<g id="l3s"><rect class="b" x="640" y="-9.5" width="77.5" height="19"/><text class="w" x="678.75">未在公众号</text></g>
</g>
<g transform="translate(0,1245)">
<g id="l4d"><rect class="b" x="281.5" y="-9.5" width="63.5" height="19"/><text class="dt" x="313.25">2024.1.6</text></g>
<g id="l4c"><rect class="b cb" x="366.5" y="-9.5" width="40" height="19"/><text class="co" x="386.5">龙旗</text></g>
<g id="l4t"><rect class="b" x="428.5" y="-9.5" width="217.5" height="19"/><text class="tt" x="437">龙旗中性及多空策略 路演纪要</text></g>
<g id="l4s"><rect class="b" x="666.5" y="-9.5" width="78.5" height="19"/><text class="w" x="705.75">未在公众号</text></g>
</g>
</g>

<g id="sec-2023-12" class="m">
<g id="m0"><rect class="b mo" x="181" y="1330" width="86.5" height="19"/><text class="co mt" x="224.25" y="1339.5">2023年12月</text></g>
<g transform="translate(0,1278.5)">
<g id="m1d"><rect class="b" x="289" y="-9.5" width="77.5" height="19"/><text class="dt" x="327.75">2023.12.29</text></g>
<g id="m1c"><rect class="b cb" x="388.5" y="-9.5" width="40" height="19"/><text class="co" x="408.5">均成</text></g>
<g id="m1t"><rect class="b" x="450" y="-9.5" width="212.5" height="19"/><text class="tt" x="458.5">对话均成司维，解析CTA的未来发展</text></g>
<g id="m1s"><rect class="b" x="684" y="-9.5" width="77.5" height="19"/><text class="w" x="722.75">未在公众号</text></g>
</g>
<g transform="translate(0,1309)">
<g id="m2d"><rect class="b" x="289" y="-9.5" width="77.5" height="19"/><text class="dt" x="327.75">2023.12.25</text></g>
<g id="m2c"><rect class="b cb" x="388.5" y="-9.5" width="40" height="19"/><text class="co" x="408.5">宽德</text></g>
<g id="m2t"><rect class="b" x="450" y="-16.5" width="210" height="33"/><text class="tt" x="458.5" y="-7.2">当宽德创始人冯鑫聊起中性策略，<tspan x="458.5" y="7.2">我们从中能学到什么?</tspan></text></g>
<g id="m2s"><rect class="b" x="681" y="-9.5" width="40.5" height="19"/><text class="g" x="701.25">删文</text></g>
</g>
<g transform="translate(0,1346)">
<g id="m3d"><rect class="b" x="289" y="-9.5" width="77.5" height="19"/><text class="dt" x="327.75">2023.12.18</text></g>
<g id="m3c"><rect class="b cb" x="388.5" y="-9.5" width="40" height="19"/><text class="co" x="408.5">勤辰</text></g>
<g id="m3t"><rect class="b" x="450" y="-16.5" width="191" height="33"/><text class="tt" x="458.5" y="-7.2">对话勤辰崔莹，新形势下的基本<tspan x="458.5" y="7.2">面趋势投资该如何践行?</tspan></text></g>
<g id="m3s"><rect class="b" x="662.5" y="-9.5" width="77.5" height="19"/><text class="w" x="701.25">未在公众号</text></g>
</g>
<g transform="translate(0,1377.5)">
<g id="m4d"><rect class="b" x="289" y="-9.5" width="77.5" height="19"/><text class="dt" x="327.75">2023.12.11</text></g>
<g id="m4c"><rect class="b cb" x="388.5" y="-9.5" width="40" height="19"/><text class="co" x="408.5">衍复</text></g>
<g id="m4t"><rect class="b" x="450" y="-9.5" width="165" height="19"/><text class="tt" x="458.5">衍复小市值指增策略沟通会</text></g>
<g id="m4s"><rect class="b" x="636" y="-9.5" width="46.5" height="19"/><text class="g" x="659.25">删文</text></g>
</g>
<g transform="translate(0,1401)">
<g id="m5d"><rect class="b" x="289" y="-9.5" width="74.5" height="19"/><text class="dt" x="326.25">2023.12 .1</text></g>
<g id="m5c"><rect class="b cb" x="385" y="-9.5" width="40" height="19"/><text class="co" x="405">颀岩</text></g>
<g id="m5t"><rect class="b" x="446.5" y="-9.5" width="114.5" height="19"/><text class="tt" x="455">颀岩最新路演纪要</text></g>
<g id="m5s"><rect class="b" x="582.5" y="-9.5" width="41" height="19"/><text class="g" x="603">删文</text></g>
</g>
</g>

<g id="sec-2023-11" class="n">
<g id="n0"><rect class="b mo pl" x="180" y="1484.5" width="92.5" height="19"/><text class="co mt" x="226.25" y="1494">2023年11月</text></g>
<g transform="translate(0,1434.5)">
<g id="n1d"><rect class="b" x="293.5" y="-9.5" width="78" height="19"/><text class="dt" x="332.5">2023.11.29</text></g>
<g id="n1c"><rect class="b cb" x="392.5" y="-9.5" width="40.5" height="19"/><text class="co" x="412.75">元盛</text></g>
<g id="n1t"><rect class="b" x="454" y="-9.5" width="205" height="19"/><text class="tt" x="462.5">元盛中国策略沟通会</text></g>
<g id="n1s"><rect class="b" x="681" y="-9.5" width="77.5" height="19"/><text class="w" x="719.75">未在公众号</text></g>
</g>
<g transform="translate(0,1458.5)">
<g id="n2d"><rect class="b" x="293.5" y="-9.5" width="78" height="19"/><text class="dt" x="332.5">2023.11.24</text></g>
<g id="n2c"><rect class="b cb" x="392.5" y="-9.5" width="65" height="19"/><text class="co" x="425">世纪前沿</text></g>
<g id="n2t"><rect class="b" x="479" y="-9.5" width="185" height="19"/><text class="tt" x="487.5">对话世纪前沿吴敌，探索量化</text></g>
<g id="n2s"><rect class="b" x="685" y="-9.5" width="40" height="19"/><text class="g" x="705">删文</text></g>
</g>
<g transform="translate(0,1482.5)">
<g id="n3d"><rect class="b" x="293.5" y="-9.5" width="78" height="19"/><text class="dt" x="332.5">2023.11.18</text></g>
<g id="n3c"><rect class="b cb" x="392.5" y="-9.5" width="40.5" height="19"/><text class="co" x="412.75">明汯</text></g>
<g id="n3t"><rect class="b" x="454" y="-9.5" width="108.5" height="19"/><text class="tt" x="462.5">明汯最新路演QA</text></g>
<g id="n3s"><rect class="b" x="583.5" y="-9.5" width="40.5" height="19"/><text class="g" x="603.75">删文</text></g>
</g>
<g transform="translate(0,1506)">
<g id="n4d"><rect class="b" x="293.5" y="-9.5" width="78" height="19"/><text class="dt" x="332.5">2023.11.15</text></g>
<g id="n4c"><rect class="b cb" x="392.5" y="-9.5" width="40.5" height="19"/><text class="co" x="412.75">象限</text></g>
<g id="n4t"><rect class="b" x="454" y="-9.5" width="108.5" height="19"/><text class="tt" x="462.5">象限最新路演QA</text></g>
<g id="n4s"><rect class="b" x="583.5" y="-9.5" width="40.5" height="19"/><text class="g" x="603.75">删文</text></g>
</g>
<g transform="translate(0,1530)">
<g id="n5d"><rect class="b" x="293.5" y="-9.5" width="70.5" height="19"/><text class="dt" x="328.75">2023.11.8</text></g>
<g id="n5c"><rect class="b cb" x="385" y="-9.5" width="40" height="19"/><text class="co" x="405">九坤</text></g>
<g id="n5t"><rect class="b" x="446.5" y="-9.5" width="193.5" height="19"/><text class="tt" x="455">九坤多空、1000指增策略沟通会</text></g>
<g id="n5s"><rect class="b" x="661" y="-9.5" width="77.5" height="19"/><text class="w" x="699.75">未在公众号</text></g>
</g>
<g transform="translate(0,1553.5)">
<g id="n6d"><rect class="b" x="293.5" y="-9.5" width="70.5" height="19"/><text class="dt" x="328.75">2023.11.1</text></g>
<g id="n6c"><rect class="b cb" x="385" y="-9.5" width="40" height="19"/><text class="co" x="405">半夏</text></g>
<g id="n6t"><rect class="b" x="446.5" y="-9.5" width="152.5" height="19"/><text class="tt" x="455">半夏宏观对冲投后沟通会</text></g>
<g id="n6s"><rect class="b" x="621" y="-9.5" width="40" height="19"/><text class="g" x="641">删文</text></g>
</g>
</g>

<g id="sec-2023-10" class="o">
<g id="o0"><rect class="b mo pl" x="180" y="1613" width="92.5" height="19"/><text class="co mt" x="226.25" y="1622.5">2023年10月</text></g>
<g transform="translate(0,1586.5)">
<g id="o1d"><rect class="b" x="293.5" y="-9.5" width="78" height="19"/><text class="dt" x="332.5">2023.10.27</text></g>
<g id="o1c"><rect class="b cb" x="392.5" y="-9.5" width="40.5" height="19"/><text class="co" x="412.75">九坤</text></g>
<g id="o1t"><rect class="b" x="454" y="-9.5" width="115" height="19"/><text class="tt" x="462.5">九坤三季度沟通会</text></g>
<g id="o1s"><rect class="b" x="591" y="-9.5" width="77.5" height="19"/><text class="w" x="629.75">未在公众号</text></g>
</g>
<g transform="translate(0,1611)">
<g id="o2d"><rect class="b" x="293.5" y="-9.5" width="78" height="19"/><text class="dt" x="332.5">2023.10.23</text></g>
<g id="o2c"><rect class="b cb" x="392.5" y="-9.5" width="40.5" height="19"/><text class="co" x="412.75">子午</text></g>
<g id="o2t"><rect class="b" x="454" y="-9.5" width="194.5" height="19"/><text class="tt" x="462.5">子午中证2000指增路演全文+QA</text></g>
<g id="o2s"><rect class="b" x="670" y="-9.5" width="40" height="19"/><text class="g" x="690">删文</text></g>
</g>
<g transform="translate(0,1635)">
<g id="o3d"><rect class="b" x="293.5" y="-9.5" width="78" height="19"/><text class="dt" x="332.5">2023.10.12</text></g>
<g id="o3c"><rect class="b cb" x="392.5" y="-9.5" width="65" height="19"/><text class="co" x="425">世纪前沿</text></g>
<g id="o3t"><rect class="b" x="479" y="-9.5" width="132.5" height="19"/><text class="tt" x="487.5">世纪前沿介绍及Q&amp;A</text></g>
<g id="o3s"><rect class="b" x="633.5" y="-9.5" width="40" height="19"/><text class="g" x="653.5">删文</text></g>
</g>
<g transform="translate(0,1658.5)">
<g id="o4d"><rect class="b" x="293.5" y="-9.5" width="78" height="19"/><text class="dt" x="332.5">2023.10.10</text></g>
<g id="o4c"><rect class="b cb" x="392.5" y="-9.5" width="40.5" height="19"/><text class="co" x="412.75">垂云</text></g>
<g id="o4t"><rect class="b" x="454" y="-9.5" width="241" height="19"/><text class="tt" x="462.5">垂云（九坤旗下债券平台）路演全文+QA</text></g>
<g id="o4s"><rect class="b" x="716.5" y="-9.5" width="41" height="19"/><text class="g" x="737">删文</text></g>
</g>
</g>

<g id="sec-2023-09" class="p">
<g id="p0"><rect class="b mo pl" x="180" y="1712.5" width="85" height="20"/><text class="co mt" x="222.5" y="1722.5">2023年9月</text></g>
<g transform="translate(0,1692.5)">
<g id="p1d"><rect class="b" x="285" y="-9.5" width="71.5" height="19"/><text class="dt" x="320.75">2023.9.20</text></g>
<g id="p1c"><rect class="b cb" x="377.5" y="-9.5" width="40.5" height="19"/><text class="co" x="397.75">均成</text></g>
<g id="p1t"><rect class="b" x="439" y="-9.5" width="179.5" height="19"/><text class="tt" x="447.5">均成CTA+策略 路演全文+QA</text></g>
<g id="p1s"><rect class="b" x="640" y="-9.5" width="40" height="19"/><text class="g" x="660">删文</text></g>
</g>
<g transform="translate(0,1722.5)">
<g id="p2d"><rect class="b" x="285" y="-9.5" width="64" height="19"/><text class="dt" x="317">2023.9.7</text></g>
<g id="p2c"><rect class="b cb" x="370" y="-9.5" width="65" height="19"/><text class="co" x="402.5">世纪前沿</text></g>
<g id="p2t"><rect class="b" x="456.5" y="-16.5" width="246" height="33"/><text class="tt" x="465" y="-7.2">世纪前沿空气指增路演全文+QA（2023年<tspan x="465" y="7.2">9月初）</tspan></text></g>
<g id="p2s"><rect class="b" x="724" y="-9.5" width="41" height="19"/><text class="g" x="744.5">删文</text></g>
</g>
<g transform="translate(0,1753.5)">
<g id="p3d"><rect class="b" x="285" y="-9.5" width="64" height="19"/><text class="dt" x="317">2023.9.4</text></g>
<g id="p3c"><rect class="b cb" x="370" y="-9.5" width="41.5" height="19"/><text class="co" x="390.75">象限</text></g>
<g id="p3t"><rect class="b" x="433" y="-9.5" width="206" height="19"/><text class="tt" x="441.5">23年8月底-象限资产路演全文+QA</text></g>
<g id="p3s"><rect class="b" x="660" y="-9.5" width="77.5" height="19"/><text class="w" x="698.75">未在公众号</text></g>
</g>
</g>

<g id="sec-2023-08" class="q">
<g id="q0"><rect class="b mo pl" x="180" y="1867" width="85" height="20"/><text class="co mt" x="222.5" y="1877">2023年8月</text></g>
<g transform="translate(0,1786.5)">
<g id="q1d"><rect class="b" x="285" y="-9.5" width="71.5" height="19"/><text class="dt" x="320.75">2023.8.29</text></g>
<g id="q1c"><rect class="b cb" x="377.5" y="-9.5" width="40.5" height="19"/><text class="co" x="397.75">茂源</text></g>
<g id="q1t"><rect class="b" x="439" y="-9.5" width="254.5" height="19"/><text class="tt" x="447.5">茂源（1000指增+期权结构）路演全文+QA</text></g>
<g id="q1s"><rect class="b" x="714" y="-9.5" width="41" height="19"/><text class="g" x="734.5">删文</text></g>
</g>
<g transform="translate(0,1810.5)">
<g id="q2d"><rect class="b" x="285" y="-9.5" width="71.5" height="19"/><text class="dt" x="320.75">2023.8.26</text></g>
<g id="q2c"><rect class="b cb" x="377.5" y="-9.5" width="65" height="19"/><text class="co" x="410">桥水中国</text></g>
<g id="q2t"><rect class="b" x="464" y="-9.5" width="189.5" height="19"/><text class="tt" x="472.5">202308-桥水中国路演全文+QA</text></g>
<g id="q2s"><rect class="b" x="675" y="-9.5" width="40" height="19"/><text class="g" x="695">删文</text></g>
</g>
<g transform="translate(0,1841.5)">
<g id="q3d"><rect class="b" x="285" y="-9.5" width="71.5" height="19"/><text class="dt" x="320.75">2023.8.18</text></g>
<g id="q3c"><rect class="b cb" x="377.5" y="-9.5" width="40.5" height="19"/><text class="co" x="397.75">腾胜</text></g>
<g id="q3t"><rect class="b" x="439" y="-16.5" width="223.5" height="33"/><text class="tt" x="447.5" y="-7.2">腾胜（Two Sigma子公司）CTA路演<tspan x="447.5" y="7.2">全文+QA</tspan></text></g>
<g id="q3s"><rect class="b" x="683.5" y="-9.5" width="77.5" height="19"/><text class="w" x="722.25">未在公众号</text></g>
</g>
<g transform="translate(0,1872.5)">
<g id="q4d"><rect class="b" x="285" y="-9.5" width="71.5" height="19"/><text class="dt" x="320.75">2023.8.17</text></g>
<g id="q4c"><rect class="b cb" x="377.5" y="-9.5" width="40.5" height="19"/><text class="co" x="397.75">合远</text></g>
<g id="q4t"><rect class="b" x="439" y="-9.5" width="186" height="19"/><text class="tt" x="447.5">合远|管华雨最新路演Q＆A环节</text></g>
<g id="q4s"><rect class="b" x="646" y="-9.5" width="77.5" height="19"/><text class="w" x="684.75">未在公众号</text></g>
</g>
<g transform="translate(0,1896)">
<g id="q5d"><rect class="b" x="285" y="-9.5" width="64" height="19"/><text class="dt" x="317">2023.8.9</text></g>
<g id="q5c"><rect class="b cb" x="370" y="-9.5" width="41" height="19"/><text class="co" x="390.5">聚鸣</text></g>
<g id="q5t"><rect class="b" x="431" y="-9.5" width="116.5" height="19"/><text class="tt" x="439.5">聚鸣 | 年中沟通会</text></g>
<g id="q5s"><rect class="b" x="569" y="-9.5" width="40" height="19"/><text class="g" x="589">删文</text></g>
</g>
<g transform="translate(0,1919.5)">
<g id="q6d"><rect class="b" x="285" y="-9.5" width="64" height="19"/><text class="dt" x="317">2023.8.7</text></g>
<g id="q6c"><rect class="b cb" x="370" y="-9.5" width="65" height="19"/><text class="co" x="402.5">金戈量锐</text></g>
<g id="q6t"><rect class="b" x="456.5" y="-9.5" width="167.5" height="19"/><text class="tt" x="465">金戈量锐 | 年中沟通会+QA</text></g>
<g id="q6s"><rect class="b" x="645" y="-9.5" width="40" height="19"/><text class="g" x="665">删文</text></g>
</g>
<g transform="translate(0,1943.5)">
<g id="q7d"><rect class="b" x="285" y="-9.5" width="64" height="19"/><text class="dt" x="317">2023.8.4</text></g>
<g id="q7c"><rect class="b cb" x="370" y="-9.5" width="41" height="19"/><text class="co" x="390.5">明汯</text></g>
<g id="q7t"><rect class="b" x="433" y="-9.5" width="215.5" height="19"/><text class="tt" x="441.5">明汯 | 年中沟通会+QA（2023.8.3）</text></g>
<g id="q7s"><rect class="b" x="669" y="-9.5" width="41" height="19"/><text class="g" x="689.5">删文</text></g>
</g>
<g transform="translate(0,1967.5)">
<g id="q8d"><rect class="b" x="285" y="-9.5" width="64" height="19"/><text class="dt" x="317">2023.8.1</text></g>
<g id="q8c"><rect class="b cb" x="370" y="-9.5" width="65" height="19"/><text class="co" x="402.5">盛泉恒元</text></g>
<g id="q8t"><rect class="b" x="456.5" y="-9.5" width="248.5" height="19"/><text class="tt" x="465">盛泉恒元 | 公司及产品介绍（2023.7.19)</text></g>
<g id="q8s"><rect class="b" x="726" y="-9.5" width="40" height="19"/><text class="g" x="746">删文</text></g>
</g>
</g>

<g id="sec-2023-07" class="r">
<g id="r0"><rect class="b mo pl" x="180" y="2086" width="85" height="20"/><text class="co mt" x="222.5" y="2096">2023年7月</text></g>
<g transform="translate(0,2000.5)">
<g id="r1d"><rect class="b" x="285" y="-9.5" width="71.5" height="19"/><text class="dt" x="320.75">2023.7.26</text></g>
<g id="r1c"><rect class="b cb" x="377.5" y="-9.5" width="40.5" height="19"/><text class="co" x="397.75">因诺</text></g>
<g id="r1t"><rect class="b" x="439" y="-9.5" width="222" height="19"/><text class="tt" x="447.5">因诺 | 年中沟通会+QA（2023.7.24）</text></g>
<g id="r1s"><rect class="b" x="682.5" y="-9.5" width="40" height="19"/><text class="g" x="702.5">删文</text></g>
</g>
<g transform="translate(0,2024.5)">
<g id="r2d"><rect class="b" x="285" y="-9.5" width="71.5" height="19"/><text class="dt" x="320.75">2023.7.26</text></g>
<g id="r2c"><rect class="b cb" x="377.5" y="-9.5" width="40.5" height="19"/><text class="co" x="397.75">量道</text></g>
<g id="r2t"><rect class="b" x="439" y="-9.5" width="237" height="19"/><text class="tt" x="447.5">量道CTA | 年中沟通会QA（2023.7.26）</text></g>
<g id="r2s"><rect class="b" x="697.5" y="-9.5" width="40" height="19"/><text class="g" x="717.5">删文</text></g>
</g>
<g transform="translate(0,2048.5)">
<g id="r3d"><rect class="b" x="285" y="-9.5" width="71.5" height="19"/><text class="dt" x="320.75">2023.7.24</text></g>
<g id="r3c"><rect class="b cb" x="377.5" y="-9.5" width="40.5" height="19"/><text class="co" x="397.75">元盛</text></g>
<g id="r3t"><rect class="b" x="439" y="-9.5" width="223.5" height="19"/><text class="tt" x="447.5">元盛 | 年中沟通会+QA（2023.7.17）</text></g>
<g id="r3s"><rect class="b" x="683.5" y="-9.5" width="40" height="19"/><text class="g" x="703.5">删文</text></g>
</g>
<g transform="translate(0,2072.5)">
<g id="r4d"><rect class="b" x="285" y="-9.5" width="71.5" height="19"/><text class="dt" x="320.75">2023.7.21</text></g>
<g id="r4c"><rect class="b cb" x="377.5" y="-9.5" width="40.5" height="19"/><text class="co" x="397.75">慎知</text></g>
<g id="r4t"><rect class="b" x="439" y="-9.5" width="194.5" height="19"/><text class="tt" x="447.5">慎知 | 年中沟通会（2023.7.14）</text></g>
<g id="r4s"><rect class="b" x="655" y="-9.5" width="40" height="19"/><text class="g" x="675">删文</text></g>
</g>
<g transform="translate(0,2096)">
<g id="r5d"><rect class="b" x="285" y="-9.5" width="71.5" height="19"/><text class="dt" x="320.75">2023.7.16</text></g>
<g id="r5c"><rect class="b cb" x="377.5" y="-9.5" width="40.5" height="19"/><text class="co" x="397.75">九坤</text></g>
<g id="r5t"><rect class="b" x="439" y="-9.5" width="206" height="19"/><text class="tt" x="447.5">九坤 | 年中沟通会+QA(2023.7.16)</text></g>
<g id="r5s"><rect class="b" x="666" y="-9.5" width="40" height="19"/><text class="g" x="686">删文</text></g>
</g>
<g transform="translate(0,2120)">
<g id="r6d"><rect class="b" x="285" y="-9.5" width="71.5" height="19"/><text class="dt" x="320.75">2023.7.14</text></g>
<g id="r6c"><rect class="b cb" x="377.5" y="-9.5" width="40.5" height="19"/><text class="co" x="397.75">勤辰</text></g>
<g id="r6t"><rect class="b" x="439" y="-9.5" width="256" height="19"/><text class="tt" x="447.5">勤辰崔莹系列 | 年中沟通会+QA(2023.7.12)</text></g>
<g id="r6s"><rect class="b" x="716" y="-9.5" width="40" height="19"/><text class="g" x="736">删文</text></g>
</g>
<g transform="translate(0,2143.5)">
<g id="r7d"><rect class="b" x="285" y="-9.5" width="71.5" height="19"/><text class="dt" x="320.75">2023.7.11</text></g>
<g id="r7c"><rect class="b cb" x="377.5" y="-9.5" width="40.5" height="19"/><text class="co" x="397.75">龙旗</text></g>
<g id="r7t"><rect class="b" x="439" y="-9.5" width="234.5" height="19"/><text class="tt" x="447.5">龙旗年中投后沟通会+QA（2023.7.10)</text></g>
<g id="r7s"><rect class="b" x="695" y="-9.5" width="40" height="19"/><text class="g" x="715">删文</text></g>
</g>
<g transform="translate(0,2167.5)">
<g id="r8d"><rect class="b" x="285" y="-9.5" width="64" height="19"/><text class="dt" x="317">2023.7.5</text></g>
<g id="r8c"><rect class="b cb" x="370" y="-9.5" width="41" height="19"/><text class="co" x="390.5">星阔</text></g>
<g id="r8t"><rect class="b" x="431" y="-9.5" width="156.5" height="19"/><text class="tt" x="439.5">星阔年中投后沟通会+QA</text></g>
<g id="r8s"><rect class="b" x="608.5" y="-9.5" width="40.5" height="19"/><text class="g" x="628.75">删文</text></g>
</g>
<g transform="translate(0,2191)">
<g id="r9d"><rect class="b" x="285" y="-9.5" width="64" height="19"/><text class="dt" x="317">2023.7.3</text></g>
<g id="r9c"><rect class="b cb" x="370" y="-9.5" width="41" height="19"/><text class="co" x="390.5">勤辰</text></g>
<g id="r9t"><rect class="b" x="431" y="-9.5" width="217.5" height="19"/><text class="tt" x="439.5">勤辰崔莹、林森系列投后沟通会+QA</text></g>
<g id="r9s"><rect class="b" x="670" y="-9.5" width="40" height="19"/><text class="g" x="690">删文</text></g>
</g>
</g>

<g id="sec-2023-06" class="s">
<g id="s0"><rect class="b mo pl" x="180" y="2286" width="85" height="20"/><text class="co mt" x="222.5" y="2296">2023年6月</text></g>
<g transform="translate(0,2224.5)">
<g id="s1d"><rect class="b" x="285" y="-9.5" width="71.5" height="19"/><text class="dt" x="320.75">2023.6.21</text></g>
<g id="s1c"><rect class="b cb" x="377.5" y="-9.5" width="40.5" height="19"/><text class="co" x="397.75">九坤</text></g>
<g id="s1t"><rect class="b" x="439" y="-9.5" width="253.5" height="19"/><text class="tt" x="447.5">九坤多空策略投后沟通会+QA</text></g>
<g id="s1s"><rect class="b" x="713.5" y="-9.5" width="40.5" height="19"/><text class="g" x="733.75">删文</text></g>
</g>
<g transform="translate(0,2248.5)">
<g id="s2d"><rect class="b" x="285" y="-9.5" width="71.5" height="19"/><text class="dt" x="320.75">2023.6.18</text></g>
<g id="s2c"><rect class="b cb" x="377.5" y="-9.5" width="40.5" height="19"/><text class="co" x="397.75">半夏</text></g>
<g id="s2t"><rect class="b" x="439" y="-9.5" width="155" height="19"/><text class="tt" x="447.5">半夏六月投后沟通会+QA</text></g>
<g id="s2s"><rect class="b" x="615" y="-9.5" width="41" height="19"/><text class="g" x="635.5">删文</text></g>
</g>
<g transform="translate(0,2272.5)">
<g id="s3d"><rect class="b" x="285" y="-9.5" width="71.5" height="19"/><text class="dt" x="320.75">2023.6.16</text></g>
<g id="s3c"><rect class="b cb" x="377.5" y="-9.5" width="40.5" height="19"/><text class="co" x="397.75">思勰</text></g>
<g id="s3t"><rect class="b" x="439" y="-9.5" width="130" height="19"/><text class="tt" x="447.5">思勰产品沟通会+QA</text></g>
<g id="s3s"><rect class="b" x="591" y="-9.5" width="40" height="19"/><text class="g" x="611">删文</text></g>
</g>
<g transform="translate(0,2296)">
<g id="s4d"><rect class="b" x="285" y="-9.5" width="71.5" height="19"/><text class="dt" x="320.75">2023.6.14</text></g>
<g id="s4c"><rect class="b cb" x="377.5" y="-9.5" width="40.5" height="19"/><text class="co" x="397.75">静瑞</text></g>
<g id="s4t"><rect class="b" x="439" y="-9.5" width="146" height="19"/><text class="tt" x="447.5">静瑞余小波6月最新路演</text></g>
<g id="s4s"><rect class="b" x="606.5" y="-9.5" width="41" height="19"/><text class="g" x="627">删文</text></g>
</g>
<g transform="translate(0,2320)">
<g id="s5d"><rect class="b" x="285" y="-9.5" width="71.5" height="19"/><text class="dt" x="320.75">2023.6.12</text></g>
<g id="s5c"><rect class="b cb" x="377.5" y="-9.5" width="40.5" height="19"/><text class="co" x="397.75">宽德</text></g>
<g id="s5t"><rect class="b" x="439" y="-9.5" width="159.5" height="19"/><text class="tt" x="447.5">宽德创始人冯鑫5月底路演</text></g>
<g id="s5s"><rect class="b" x="619" y="-9.5" width="40" height="19"/><text class="g" x="639">删文</text></g>
</g>
<g transform="translate(0,2343.5)">
<g id="s6d"><rect class="b" x="285" y="-9.5" width="71.5" height="19"/><text class="dt" x="320.75">2023.6.10</text></g>
<g id="s6c"><rect class="b cb" x="377.5" y="-9.5" width="40.5" height="19"/><text class="co" x="397.75">正圆</text></g>
<g id="s6t"><rect class="b" x="439" y="-9.5" width="122" height="19"/><text class="tt" x="447.5">正圆廖茂林6月路演</text></g>
<g id="s6s"><rect class="b" x="582.5" y="-9.5" width="40" height="19"/><text class="g" x="602.5">删文</text></g>
</g>
<g transform="translate(0,2367.5)">
<g id="s7d"><rect class="b" x="285" y="-9.5" width="64" height="19"/><text class="dt" x="317">2023.6.8</text></g>
<g id="s7c"><rect class="b cb" x="370" y="-9.5" width="41" height="19"/><text class="co" x="390.5">凯丰</text></g>
<g id="s7t"><rect class="b" x="431" y="-9.5" width="123" height="19"/><text class="tt" x="439.5">凯丰6月投后沟通会</text></g>
<g id="s7s"><rect class="b" x="576" y="-9.5" width="40" height="19"/><text class="g" x="596">删文</text></g>
</g>
</g>

<g id="sec-2023-05" class="t">
<g id="t0"><rect class="b mo pl" x="180" y="2498" width="85" height="20"/><text class="co mt" x="222.5" y="2508">2023年5月</text></g>
<g transform="translate(0,2401.5)">
<g id="t1d"><rect class="b" x="285" y="-9.5" width="71.5" height="19"/><text class="dt" x="320.75">2023.5.29</text></g>
<g id="t1c"><rect class="b cb" x="377.5" y="-9.5" width="82.5" height="19"/><text class="co" x="418.75">合远-管华雨</text></g>
<g id="t1t"><rect class="b" x="481.5" y="-9.5" width="160" height="19"/><text class="tt" x="490">合远管华雨5月路演摘要+QA</text></g>
<g id="t1s"><rect class="b" x="677.5" y="-9.5" width="40" height="19"/><text class="g" x="697.5">删文</text></g>
</g>
<g transform="translate(0,2424.5)">
<g id="t2d"><rect class="b" x="285" y="-9.5" width="71.5" height="19"/><text class="dt" x="320.75">2023.5.27</text></g>
<g id="t2c"><rect class="b cb" x="377.5" y="-9.5" width="77.5" height="19"/><text class="co" x="416.25">仲阳天王星</text></g>
<g id="t2t"><rect class="b" x="476.5" y="-9.5" width="223.5" height="19"/><text class="tt" x="485">仲阳天王星5月空气指增路演全文+QA</text></g>
<g id="t2s"><rect class="b" x="721" y="-9.5" width="40" height="19"/><text class="g" x="741">删文</text></g>
</g>
<g transform="translate(0,2448.5)">
<g id="t3d"><rect class="b" x="285" y="-9.5" width="71.5" height="19"/><text class="dt" x="320.75">2023.5.19</text></g>
<g id="t3c"><rect class="b cb" x="377.5" y="-9.5" width="52.5" height="19"/><text class="co" x="403.75">正心谷</text></g>
<g id="t3t"><rect class="b" x="451.5" y="-9.5" width="211" height="19"/><text class="tt" x="460">正心谷5月投资交流会路演全文+QA</text></g>
<g id="t3s"><rect class="b" x="684" y="-9.5" width="40" height="19"/><text class="g" x="704">删文</text></g>
</g>
<g transform="translate(0,2472.5)">
<g id="t4d"><rect class="b" x="285" y="-9.5" width="71.5" height="19"/><text class="dt" x="320.75">2023.5.17</text></g>
<g id="t4c"><rect class="b cb" x="377.5" y="-9.5" width="86" height="19"/><text class="co" x="420.5">Two Sigma</text></g>
<g id="t4t"><rect class="b" x="485" y="-9.5" width="187.5" height="19"/><text class="tt" x="493.5">腾胜500指增策略最新路演+QA</text></g>
<g id="t4s"><rect class="b" x="694" y="-9.5" width="41" height="19"/><text class="g" x="714.5">删文</text></g>
</g>
<g transform="translate(0,2496)">
<g id="t5d"><rect class="b" x="285" y="-9.5" width="71.5" height="19"/><text class="dt" x="320.75">2023.5.15</text></g>
<g id="t5c"><rect class="b cb" x="377.5" y="-9.5" width="40.5" height="19"/><text class="co" x="397.75">宽德</text></g>
<g id="t5t"><rect class="b" x="439" y="-9.5" width="236" height="19"/><text class="tt" x="447.5">宽德空气指增策略5月最新路演全文+QA</text></g>
<g id="t5s"><rect class="b" x="696" y="-9.5" width="40.5" height="19"/><text class="g" x="716.25">删文</text></g>
</g>
<g transform="translate(0,2520)">
<g id="t6d"><rect class="b" x="285" y="-9.5" width="71.5" height="19"/><text class="dt" x="320.75">2023.5.13</text></g>
<g id="t6c"><rect class="b cb" x="377.5" y="-9.5" width="40.5" height="19"/><text class="co" x="397.75">九坤</text></g>
<g id="t6t"><rect class="b" x="439" y="-9.5" width="211" height="19"/><text class="tt" x="447.5">九坤美元中性基金5月路演全文+QA</text></g>
<g id="t6s"><rect class="b" x="671.5" y="-9.5" width="40" height="19"/><text class="g" x="691.5">删文</text></g>
</g>
<g transform="translate(0,2544)">
<g id="t7d"><rect class="b" x="285" y="-9.5" width="71.5" height="19"/><text class="dt" x="320.75">2023.5.13</text></g>
<g id="t7c"><rect class="b cb" x="377.5" y="-9.5" width="40.5" height="19"/><text class="co" x="397.75">九坤</text></g>
<g id="t7t"><rect class="b" x="439" y="-9.5" width="211" height="19"/><text class="tt" x="447.5">九坤美元量化多头5月路演全文+QA</text></g>
<g id="t7s"><rect class="b" x="671.5" y="-9.5" width="40" height="19"/><text class="g" x="691.5">删文</text></g>
</g>
<g transform="translate(0,2567.5)">
<g id="t8d"><rect class="b" x="285" y="-9.5" width="71.5" height="19"/><text class="dt" x="320.75">2023.5.12</text></g>
<g id="t8c"><rect class="b cb" x="377.5" y="-9.5" width="40.5" height="19"/><text class="co" x="397.75">白鹭</text></g>
<g id="t8t"><rect class="b" x="439" y="-9.5" width="199.5" height="19"/><text class="tt" x="447.5">白鹭5月投后交流会路演全文+QA</text></g>
<g id="t8s"><rect class="b" x="660" y="-9.5" width="40" height="19"/><text class="g" x="680">删文</text></g>
</g>
<g transform="translate(0,2591.5)">
<g id="t9d"><rect class="b" x="285" y="-9.5" width="71.5" height="19"/><text class="dt" x="320.75">2023.5.12</text></g>
<g id="t9t"><rect class="b" x="377.5" y="-9.5" width="298.5" height="19"/><text class="tt tb" x="386">复盘2022年-2023年3月，量化-公募VS私募-超额PK</text></g>
<g id="t9s"><rect class="b" x="697.5" y="-9.5" width="40" height="19"/><text class="g" x="717.5">删文</text></g>
</g>
<g transform="translate(0,2615)">
<g id="t10d"><rect class="b" x="285" y="-9.5" width="64" height="19"/><text class="dt" x="317">2023.5.9</text></g>
<g id="t10c"><rect class="b cb" x="370" y="-9.5" width="41" height="19"/><text class="co" x="390.5">蒙玺</text></g>
<g id="t10t"><rect class="b" x="431" y="-9.5" width="217.5" height="19"/><text class="tt" x="439.5">蒙玺CTA策略分享会路演全文+QA)</text></g>
<g id="t10s"><rect class="b" x="670" y="-9.5" width="40" height="19"/><text class="g" x="690">删文</text></g>
</g>
</g>

<g id="sec-2023-04" class="u">
<g id="u0"><rect class="b mo pl" x="180" y="2703.5" width="85" height="20"/><text class="co mt" x="222.5" y="2713.5">2023年4月</text></g>
<g transform="translate(0,2649)">
<g id="u1d"><rect class="b" x="285" y="-9.5" width="71.5" height="19"/><text class="dt" x="320.75">2023.4.27</text></g>
<g id="u1c"><rect class="b cb" x="377.5" y="-9.5" width="40.5" height="19"/><text class="co" x="397.75">青骊</text></g>
<g id="u1t"><rect class="b" x="439" y="-9.5" width="211" height="19"/><text class="tt" x="447.5">青骊4月中旬最新路演全文+QA解答</text></g>
<g id="u1s"><rect class="b" x="671.5" y="-9.5" width="41" height="19"/><text class="g" x="692">删文</text></g>
</g>
<g transform="translate(0,2679.5)">
<g id="u2d"><rect class="b" x="285" y="-9.5" width="71.5" height="19"/><text class="dt" x="320.75">2023.4.28</text></g>
<g id="u2c"><rect class="b cb" x="377.5" y="-9.5" width="82.5" height="19"/><text class="co" x="418.75">聚鸣-王文祥</text></g>
<g id="u2t"><rect class="b" x="481.5" y="-16.5" width="215" height="33"/><text class="tt" x="490" y="-7.2">聚鸣-王文祥匠传系列4月沟通会全文<tspan x="490" y="7.2">+QA</tspan></text></g>
<g id="u2s"><rect class="b" x="718.5" y="-9.5" width="40" height="19"/><text class="g" x="738.5">删文</text></g>
</g>
<g transform="translate(0,2710)">
<g id="u3d"><rect class="b" x="285" y="-9.5" width="71.5" height="19"/><text class="dt" x="320.75">2023.4.25</text></g>
<g id="u3c"><rect class="b cb" x="377.5" y="-9.5" width="70" height="19"/><text class="co" x="412.5">勤辰-崔莹</text></g>
<g id="u3t"><rect class="b" x="469" y="-9.5" width="148.5" height="19"/><text class="tt" x="477.5">勤辰-崔莹路演全文+QA</text></g>
<g id="u3s"><rect class="b" x="639" y="-9.5" width="40" height="19"/><text class="g" x="659">删文</text></g>
</g>
<g transform="translate(0,2740.5)">
<g id="u4d"><rect class="b" x="285" y="-9.5" width="71.5" height="19"/><text class="dt" x="320.75">2023.4.23</text></g>
<g id="u4c"><rect class="b cb" x="377.5" y="-9.5" width="40.5" height="19"/><text class="co" x="397.75">宽德</text></g>
<g id="u4t"><rect class="b" x="439" y="-16.5" width="231" height="33"/><text class="tt" x="447.5" y="-7.2">宽德国证2000指增全市场首发上市路演<tspan x="447.5" y="7.2">Q＆A环节</tspan></text></g>
<g id="u4s"><rect class="b" x="691" y="-9.5" width="40.5" height="19"/><text class="g" x="711.25">删文</text></g>
</g>
<g transform="translate(0,2778.5)">
<g id="u5d"><rect class="b" x="285" y="-9.5" width="71.5" height="19"/><text class="dt" x="320.75">2023.4.19</text></g>
<g id="u5c"><rect class="b cb" x="377.5" y="-9.5" width="40.5" height="19"/><text class="co" x="397.75">聚鸣</text></g>
<g id="u5t"><rect class="b" x="439" y="-16.5" width="231" height="33"/><text class="tt" x="447.5" y="-7.2">聚鸣刘晓龙路演最新观点：AI是一次类<tspan x="447.5" y="7.2">比于移动互联网的重要变革</tspan></text></g>
<g id="u5s"><rect class="b" x="691.5" y="-9.5" width="41" height="19"/><text class="g" x="712">删文</text></g>
</g>
</g>

<g id="sec-2023-03" class="v">
<g id="v0"><rect class="b mo pl" x="180" y="2815.5" width="85" height="20"/><text class="co mt" x="222.5" y="2825.5">2023年3月</text></g>
<g transform="translate(0,2825.5)">
<g id="v1d"><rect class="b" x="285" y="-9.5" width="71.5" height="19"/><text class="dt" x="320.75">2023.3.26</text></g>
<g id="v1c"><rect class="b cb" x="377.5" y="-9.5" width="40.5" height="19"/><text class="co" x="397.75">明汯</text></g>
<g id="v1t"><rect class="b" x="439" y="-16.5" width="248.5" height="33"/><text class="tt" x="447.5" y="-7.2">明汯裘慧明、英仕曼许铭、启林王鸿勇、<tspan x="447.5" y="7.2">世纪前沿吴敌 四位同框讲了些什么?</tspan></text></g>
<g id="v1s"><rect class="b" x="709" y="-9.5" width="43.5" height="19"/><text class="g" x="730.75">删文</text></g>
</g>
</g>
</g>
</svg>
